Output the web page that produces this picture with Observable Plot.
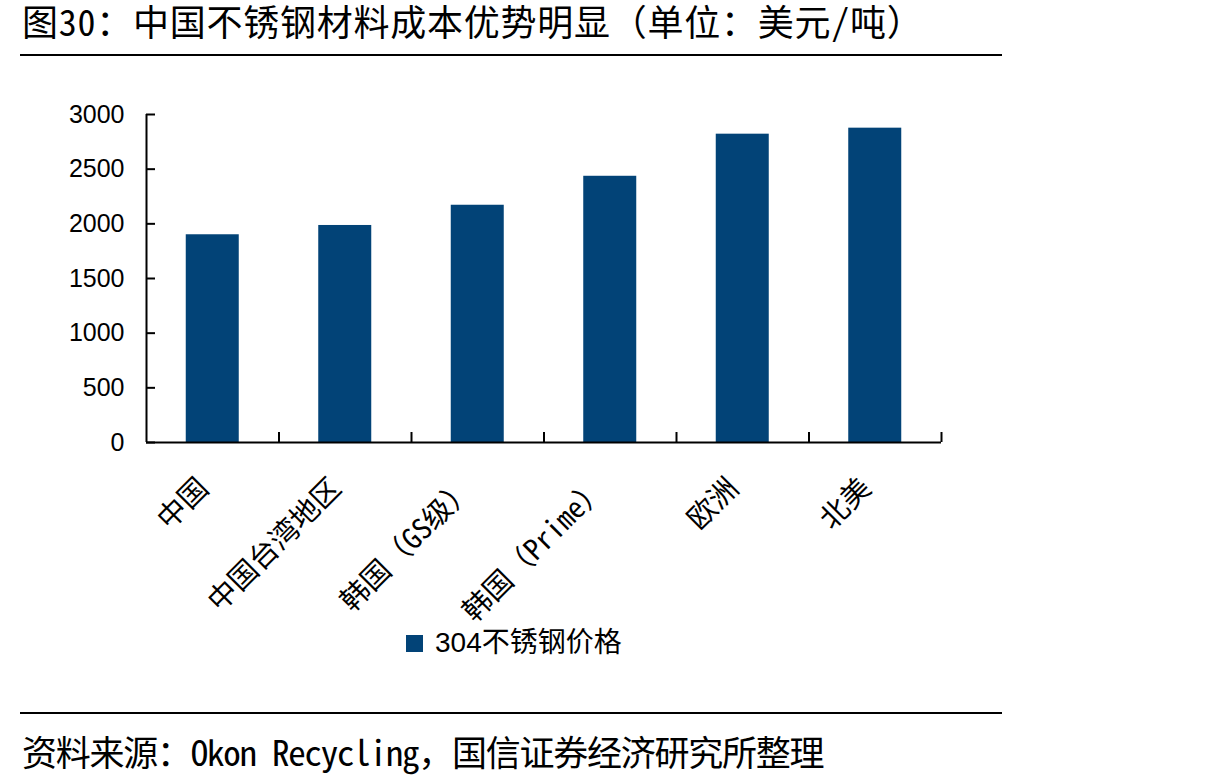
<!DOCTYPE html>
<html>
<head>
<meta charset="utf-8">
<script src="https://cdn.jsdelivr.net/npm/d3@7"></script>
<script src="https://cdn.jsdelivr.net/npm/@observablehq/plot@0.6"></script>
<style>
  body { margin: 0; background: #fff; }
  #page { position: relative; width: 1217px; height: 781px; overflow: hidden; background: #fff; }
  .hei { font-family: "Noto Sans Mono CJK SC", "Noto Sans CJK SC", sans-serif; color: #000; }
  #title { position: absolute; left: 22px; top: 0; width: 1000px; height: 52px; font-size: 36px; line-height: 40px;
           padding-top: 0; white-space: nowrap; letter-spacing: 0.75px; overflow: visible; }
  .rule { position: absolute; left: 20px; width: 982px; height: 2px; background: #000; }
  #chart { position: absolute; left: 0; top: 60px; }
  #legend { position: absolute; left: 406px; top: 629px; font-family: "Liberation Sans", "Noto Sans CJK SC", sans-serif;
            font-size: 28px; line-height: 1; display: flex; align-items: center; color: #000; white-space: nowrap; }
  #legend .sw { width: 17px; height: 17px; margin-right: 12px; }
  #source { position: absolute; left: 22px; top: 729px; width: 1000px; font-size: 35px; line-height: 44px;
            white-space: nowrap; letter-spacing: -1.25px; }
</style>
</head>
<body>
<div id="page">
  <div id="title" class="hei"></div>
  <div class="rule" style="top:54px"></div>
  <div id="chart"></div>
  <div id="legend"><span class="sw"></span><span class="lt"></span></div>
  <div class="rule" style="top:712px"></div>
  <div id="source" class="hei"></div>
</div>
<script>
// 304 stainless steel price by region (USD per tonne)
const titleText = "图30：中国不锈钢材料成本优势明显（单位：美元/吨）";
const sourceText = "资料来源：Okon Recycling，国信证券经济研究所整理";
const seriesName = "304不锈钢价格";
const categories = ["中国", "中国台湾地区", "韩国（GS级）", "韩国（Prime）", "欧洲", "北美"];
const prices = [1900, 1985, 2170, 2435, 2820, 2875];
const yTicks = [0, 500, 1000, 1500, 2000, 2500, 3000];
const barColor = "#024377";

const rows = categories.map((category, i) => ({i, category, price: prices[i]}));
const heiFont = "'Noto Sans Mono CJK SC', 'Noto Sans CJK SC', sans-serif";
// category boundaries on the index scale (ticks sit between bars)
const boundaries = d3.range(1, categories.length + 1);

document.getElementById("title").textContent = titleText;
document.getElementById("source").textContent = sourceText;
document.querySelector("#legend .sw").style.background = barColor;
document.querySelector("#legend .lt").textContent = seriesName;

const chart = Plot.plot({
  width: 1000,
  height: 560,
  marginLeft: 146,
  marginRight: 59,
  marginTop: 54,
  marginBottom: 178,
  x: {domain: [0, categories.length]},
  y: {domain: [0, 3000]},
  style: {background: "transparent", color: "#000", overflow: "visible"},
  marks: [
    Plot.rectY(rows, {x1: d => d.i + 0.3, x2: d => d.i + 0.7, y: "price", fill: barColor}),
    // value labels on the left
    Plot.axisY(yTicks, {tickSize: 0, tickPadding: 22, fontSize: 25, tickFormat: d => String(d),
                        fontFamily: "'Liberation Sans', Arial, sans-serif", fill: "#000", label: null}),
    // inward-pointing tick marks on the value axis
    Plot.axisY(yTicks, {tickSize: 9, dx: 9, tickFormat: () => "", strokeWidth: 2, stroke: "#000", label: null}),
    // upward tick marks between categories
    Plot.axisX(boundaries, {tickSize: 10, dy: -10, tickFormat: () => "", strokeWidth: 2, stroke: "#000", label: null}),
    Plot.ruleX([0], {strokeWidth: 2, stroke: "#000"}),
    Plot.ruleY([0], {strokeWidth: 2, stroke: "#000"}),
    Plot.text(rows, {x: d => d.i + 0.5, y: 0, text: "category", rotate: -45, textAnchor: "end",
                     dx: -9, dy: 41, fontSize: 29, fontFamily: heiFont, fill: "#000"})
  ]
});
document.getElementById("chart").appendChild(chart);
</script>
</body>
</html>
